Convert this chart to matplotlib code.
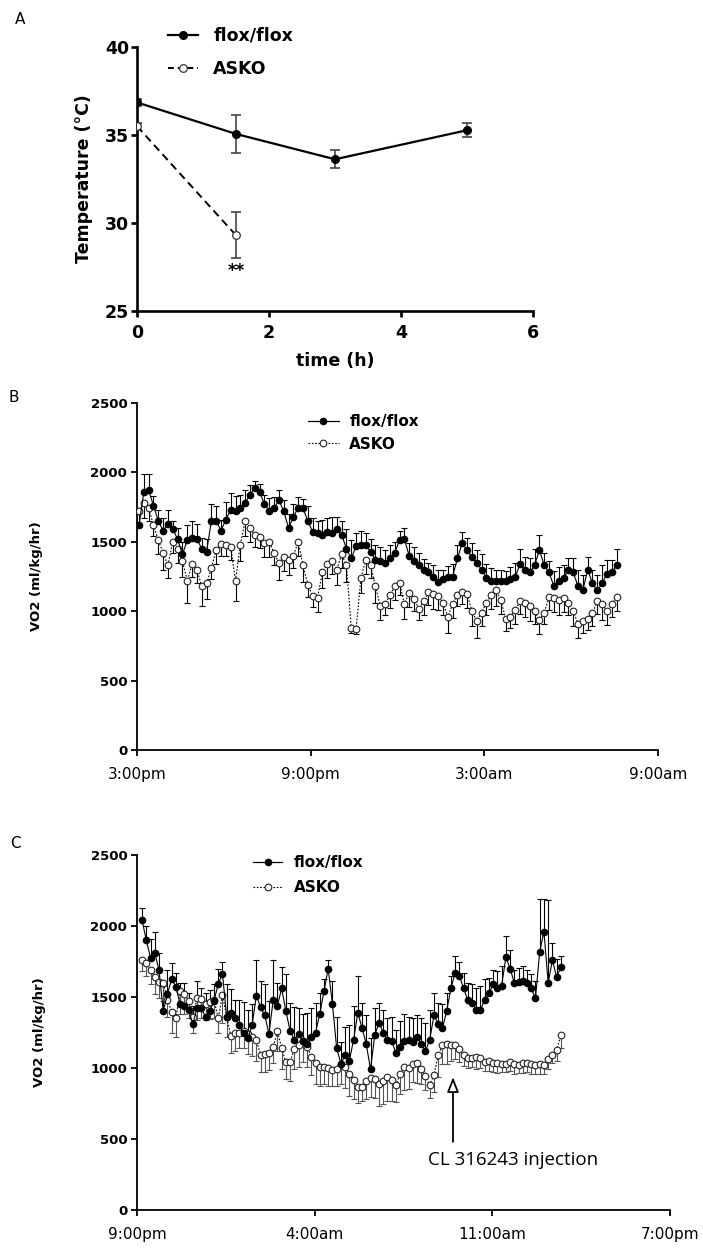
import numpy as np
import matplotlib
matplotlib.use("Agg")
import matplotlib.pyplot as plt
from matplotlib.lines import Line2D

plt.rcParams['font.family'] = ['DejaVu Sans']

# ---------------- Panel A data ----------------
tA_flox = [0, 1.5, 3, 5]
temp_flox = [36.85, 35.06, 33.62, 35.27]
temp_flox_err = [0.2, 1.1, 0.5, 0.4]
tA_asko = [0, 1.5]
temp_asko = [35.5, 29.3]
temp_asko_err = [0.2, 1.3]
A_xticks = [0, 2, 4, 6]
A_yticks = [25, 30, 35, 40]

# ---------------- Panel B data (10-min bins from 3:00pm) ----------------
B_start_h = 0.07
B_step_h = 1 / 6
vo2B_flox = [1620, 1860, 1870, 1760, 1650, 1580, 1630, 1590, 1520, 1410,
             1510, 1530, 1520, 1450, 1430, 1650, 1650, 1580, 1660, 1730,
             1720, 1740, 1780, 1840, 1890, 1860, 1770, 1725, 1740, 1800,
             1720, 1600, 1680, 1745, 1740, 1650, 1570, 1560, 1550, 1570,
             1560, 1590, 1550, 1450, 1380, 1470, 1480, 1480, 1430, 1370,
             1360, 1350, 1380, 1420, 1510, 1520, 1400, 1360, 1330, 1295,
             1280, 1250, 1210, 1230, 1245, 1250, 1380, 1490, 1440, 1390,
             1350, 1300, 1240, 1220, 1220, 1215, 1220, 1230, 1250, 1340,
             1300, 1280, 1330, 1440, 1330, 1280, 1180, 1220, 1240, 1300,
             1280, 1180, 1150, 1300, 1200, 1150, 1200, 1270, 1280, 1330]
vo2B_flox_err = [90, 130, 120, 70, 80, 90, 100, 60, 80, 90,
                 110, 120, 110, 80, 90, 120, 110, 80, 130, 120,
                 110, 100, 90, 70, 50, 60, 70, 90, 80, 70,
                 80, 100, 90, 80, 70, 110, 100, 90, 110, 100,
                 120, 90, 100, 140, 130, 90, 100, 80, 90, 110,
                 100, 90, 100, 80, 70, 80, 90, 100, 90, 80,
                 70, 80, 90, 70, 80, 90, 100, 80, 90, 100,
                 90, 110, 100, 90, 80, 80, 70, 90, 100, 110,
                 90, 100, 120, 110, 90, 80, 110, 100, 90, 80,
                 100, 120, 110, 90, 100, 110, 130, 100, 90, 120]
vo2B_asko = [1725, 1780, 1740, 1620, 1510, 1420, 1330, 1500, 1450, 1360,
             1220, 1340, 1300, 1180, 1200, 1310, 1440, 1485, 1480, 1460,
             1220, 1480, 1650, 1600, 1550, 1535, 1490, 1500, 1420, 1345,
             1390, 1370, 1400, 1500, 1330, 1190, 1110, 1095, 1280, 1340,
             1360, 1300, 1410, 1330, 880, 875, 1240, 1370, 1330, 1180,
             1040, 1050, 1115, 1180, 1200, 1055, 1130, 1090, 1015, 1070,
             1135, 1125, 1110, 1060, 960, 1050, 1120, 1140, 1125, 1000,
             930, 990, 1060, 1115, 1150, 1080, 945, 960, 1010, 1070,
             1060, 1040, 1000, 935, 990, 1100, 1095, 1080, 1095, 1060,
             1000, 910, 930, 945, 990, 1070, 1050, 1000, 1050, 1100]
vo2B_asko_err = [120, 110, 90, 80, 100, 120, 90, 80, 100, 110,
                 160, 90, 100, 140, 110, 80, 100, 90, 80, 90,
                 150, 120, 110, 100, 90, 80, 100, 110, 90, 120,
                 100, 110, 90, 100, 120, 90, 80, 100, 110, 100,
                 90, 110, 100, 120, 40, 40, 110, 100, 90, 120,
                 100, 80, 90, 100, 80, 110, 100, 90, 80, 100,
                 90, 110, 100, 90, 120, 100, 80, 90, 100, 110,
                 120, 100, 90, 100, 110, 100, 90, 80, 100, 90,
                 100, 110, 90, 100, 80, 90, 100, 110, 100, 90,
                 110, 100, 90, 80, 100, 90, 110, 100, 90, 100]
B_xticks = [0, 6, 12, 18]
B_xticklabels = ["3:00pm", "9:00pm", "3:00am", "9:00am"]

# ---------------- Panel C data (10-min bins from 9:00pm) ----------------
C_start_h = 0.2
C_step_h = 1 / 6
vo2C_flox = [2040, 1900, 1775, 1810, 1690, 1400, 1520, 1630, 1570, 1450,
             1440, 1410, 1310, 1425, 1420, 1360, 1400, 1475, 1590, 1665,
             1360, 1385, 1350, 1300, 1245, 1210, 1300, 1510, 1430, 1370,
             1240, 1480, 1440, 1560, 1400, 1260, 1200, 1240, 1190, 1170,
             1220, 1250, 1380, 1540, 1700, 1450, 1140, 1030, 1090, 1050,
             1200, 1390, 1280, 1170, 990, 1230, 1320, 1250, 1200, 1190,
             1105, 1150, 1190, 1200, 1185, 1220, 1170, 1120, 1200, 1370,
             1310, 1280, 1400, 1560, 1670, 1650, 1560, 1480, 1460, 1410,
             1410, 1480, 1525, 1590, 1560, 1580, 1780, 1700, 1600, 1605,
             1610, 1600, 1560, 1490, 1820, 1960, 1600, 1760, 1640, 1710]
vo2C_flox_err = [90, 100, 130, 150, 120, 180, 170, 110, 100, 150,
                 160, 120, 130, 190, 140, 170, 150, 120, 110, 80,
                 230, 170, 130, 180, 220, 200, 150, 250, 180, 220,
                 230, 280, 160, 150, 260, 200, 230, 180, 190, 220,
                 200, 210, 150, 90, 60, 160, 220, 150, 200, 250,
                 240, 260, 180, 200, 220, 190, 140, 160, 150, 170,
                 160, 180, 190, 160, 170, 150, 180, 200, 210, 160,
                 150, 170, 130, 90, 120, 100, 110, 120, 130, 150,
                 170, 150, 110, 100, 120, 140, 150, 130, 90, 100,
                 110, 90, 100, 120, 370, 230, 580, 120, 130, 80]
vo2C_asko = [1760, 1740, 1690, 1640, 1605, 1600, 1480, 1395, 1350, 1540,
             1520, 1475, 1360, 1490, 1485, 1450, 1465, 1480, 1350, 1515,
             1360, 1225, 1250, 1250, 1260, 1240, 1215, 1200, 1095, 1100,
             1105, 1145, 1260, 1140, 1040, 1040, 1135, 1165, 1190, 1150,
             1080, 1035, 1010, 1005, 1000, 985, 990, 1025, 1010, 960,
             915, 865, 865, 905, 933, 920, 885, 905, 940, 917,
             880, 960, 1005, 1000, 1030, 1035, 995, 945, 880, 950,
             1090, 1160, 1170, 1160, 1160, 1135, 1095, 1070, 1070, 1075,
             1070, 1040, 1050, 1035, 1035, 1030, 1025, 1040, 1030, 1022,
             1035, 1035, 1025, 1020, 1030, 1020, 1060, 1095, 1130, 1230]
vo2C_asko_err = [80, 90, 100, 120, 110, 130, 120, 150, 130, 160,
                 140, 120, 110, 150, 130, 110, 120, 130, 100, 200,
                 140, 120, 130, 110, 120, 140, 130, 150, 120, 130,
                 120, 110, 140, 150, 120, 130, 140, 160, 150, 140,
                 130, 150, 140, 120, 130, 110, 120, 140, 150, 160,
                 130, 110, 100, 120, 140, 130, 150, 160, 170, 150,
                 120, 140, 160, 150, 130, 140, 110, 100, 90, 120,
                 150, 130, 140, 110, 100, 90, 80, 70, 60, 80,
                 70, 60, 70, 60, 70, 60, 50, 60, 70, 60,
                 70, 60, 70, 60, 70, 60, 70, 60, 80, 90]
C_xticks = [0, 7, 14, 21]
C_xticklabels = ["9:00pm", "4:00am", "11:00am", "7:00pm"]
injection_h = 12.45
injection_label = "CL 316243 injection"

VO2_yticks = [0, 500, 1000, 1500, 2000, 2500]

# ---------------- Figure ----------------
W, H = 703, 1252
fig = plt.figure(figsize=(W / 100, H / 100), dpi=100)
fig.patch.set_facecolor('white')


def fax(left, top, right, bottom):
    return fig.add_axes([left / W, 1 - bottom / H, (right - left) / W, (bottom - top) / H])


def style_axes(ax, lw, ticklen):
    for s in ('top', 'right'):
        ax.spines[s].set_visible(False)
    for s in ('left', 'bottom'):
        ax.spines[s].set_linewidth(lw)
    ax.tick_params(direction='out', width=lw, length=ticklen)


# ---- Panel A ----
axA = fax(137, 47, 533, 311)
style_axes(axA, 1.9, 4.5)
axA.set_xlim(0, 6)
axA.set_ylim(25, 40)
axA.errorbar(tA_flox, temp_flox, yerr=temp_flox_err, fmt='none', ecolor='#444444',
             elinewidth=1.2, capsize=3.5, capthick=1.2, zorder=2)
axA.errorbar(tA_asko, temp_asko, yerr=temp_asko_err, fmt='none', ecolor='#444444',
             elinewidth=1.2, capsize=3.5, capthick=1.2, zorder=2)
axA.plot(tA_flox, temp_flox, '-', color='black', lw=1.6, marker='o', ms=5.5,
         mfc='black', mec='black', zorder=3)
axA.plot(tA_asko, temp_asko, color='black', lw=1.4, ls=(0, (4, 2.5)), marker='o', ms=5.5,
         mfc='white', mec='#333333', mew=0.9, zorder=3)
axA.text(1.5, 27.25, "**", ha='center', va='center', fontsize=12, fontweight='bold')
axA.set_xticks(A_xticks)
axA.set_yticks(A_yticks)
axA.tick_params(axis='y', pad=1, labelsize=12.5)
axA.tick_params(axis='x', pad=5, labelsize=12.5)
for lab in axA.get_xticklabels() + axA.get_yticklabels():
    lab.set_fontweight('bold')
axA.set_xlabel("time (h)", fontsize=12.5, fontweight='bold')
axA.xaxis.set_label_coords(0.5, -0.155)
axA.set_ylabel("Temperature (°C)", fontsize=12.5, fontweight='bold')
axA.yaxis.set_label_coords(-0.11, 0.5)
hA = [Line2D([], [], color='black', lw=1.6, marker='o', ms=5.5, mfc='black'),
      Line2D([], [], color='black', lw=1.4, ls=(0, (3, 2)), marker='o', ms=5.5,
             mfc='white', mec='#333333', mew=0.9)]
axA.legend(hA, ["flox/flox", "ASKO"], loc='upper left', bbox_to_anchor=(168 / W, 1 - 27 / H),
           bbox_transform=fig.transFigure, frameon=False, borderpad=0, borderaxespad=0,
           handlelength=1.75, handletextpad=0.85, labelspacing=0.85,
           prop={'size': 12.5, 'weight': 'bold'})


def vo2_panel(ax, t, flox, flox_err, asko, asko_err, ebcol_asko):
    t = np.asarray(t, float)
    flox = np.asarray(flox, float)
    asko = np.asarray(asko, float)
    fe = np.asarray(flox_err, float)
    ae = np.asarray(asko_err, float)
    # flox: upward error bars
    ax.vlines(t, flox, flox + fe, color='black', lw=0.8, zorder=2)
    ax.plot(t, flox + fe, ls='none', marker='_', ms=5, mew=0.8, color='black', zorder=2)
    # asko: downward error bars
    ax.vlines(t, asko - ae, asko, color=ebcol_asko, lw=0.8, zorder=2)
    ax.plot(t, asko - ae, ls='none', marker='_', ms=5, mew=0.8, color=ebcol_asko, zorder=2)
    ax.plot(t, asko, color='black', lw=0.8, ls=(0, (1.5, 1.5)), marker='o', ms=4.8,
            mfc='white', mec='#222222', mew=0.8, zorder=3)
    ax.plot(t, flox, color='black', lw=0.8, ls='-', marker='o', ms=4.5,
            mfc='black', mec='black', zorder=4)
    ax.set_ylim(0, 2500)
    ax.set_yticks(VO2_yticks)
    ax.tick_params(axis='y', labelsize=9.5, pad=3)
    ax.tick_params(axis='x', labelsize=11, pad=8)
    for lab in ax.get_yticklabels():
        lab.set_fontweight('bold')
    ax.set_ylabel("VO2 (ml/kg/hr)", fontsize=9.5, fontweight='bold')


# ---- Panel B ----
axB = fax(137, 403, 658, 750)
style_axes(axB, 1.3, 4)
tB = B_start_h + B_step_h * np.arange(len(vo2B_flox))
vo2_panel(axB, tB, vo2B_flox, vo2B_flox_err, vo2B_asko, vo2B_asko_err, 'black')
axB.set_xlim(0, 18)
axB.set_xticks(B_xticks)
axB.set_xticklabels(B_xticklabels)
axB.yaxis.set_label_coords(-0.18, 0.5)
hB = [Line2D([], [], color='black', lw=0.9, marker='o', ms=4.5, mfc='black'),
      Line2D([], [], color='black', lw=0.8, ls=(0, (1.5, 1.5)), marker='o', ms=4.8,
             mfc='white', mec='#222222', mew=0.8)]
axB.legend(hB, ["flox/flox", "ASKO"], loc='upper left', bbox_to_anchor=(308 / W, 1 - 414 / H),
           bbox_transform=fig.transFigure, frameon=False, borderpad=0, borderaxespad=0,
           handlelength=2.0, handletextpad=0.7, labelspacing=0.5,
           prop={'size': 11, 'weight': 'bold'})

# ---- Panel C ----
axC = fax(137, 855, 670, 1210)
style_axes(axC, 1.3, 4)
tC = C_start_h + C_step_h * np.arange(len(vo2C_flox))
vo2_panel(axC, tC, vo2C_flox, vo2C_flox_err, vo2C_asko, vo2C_asko_err, '#555555')
axC.set_xlim(0, 21)
axC.set_xticks(C_xticks)
axC.set_xticklabels(C_xticklabels)
axC.yaxis.set_label_coords(-0.17, 0.5)
axC.legend(hB, ["flox/flox", "ASKO"], loc='upper left', bbox_to_anchor=(253 / W, 1 - 855 / H),
           bbox_transform=fig.transFigure, frameon=False, borderpad=0, borderaxespad=0,
           handlelength=1.9, handletextpad=0.8, labelspacing=0.65,
           prop={'size': 11, 'weight': 'bold'})
axC.annotate("", xy=(injection_h, 936), xytext=(injection_h, 480),
             arrowprops=dict(arrowstyle='-|>,head_length=0.9,head_width=0.35', fc='white',
                             ec='black', lw=1.3, shrinkA=0, shrinkB=0), zorder=6)
axC.text(14.8, 352, injection_label, ha='center', va='center', fontsize=13.5,
         family=['Open Sans', 'DejaVu Sans'])

# panel letters
fig.text(15 / W, 1 - 20 / H, "A", ha='left', va='center', fontsize=11)
fig.text(8 / W, 1 - 397 / H, "B", ha='left', va='center', fontsize=11)
fig.text(10 / W, 1 - 843 / H, "C", ha='left', va='center', fontsize=11)

fig.savefig("out.png", dpi=100, facecolor='white')
